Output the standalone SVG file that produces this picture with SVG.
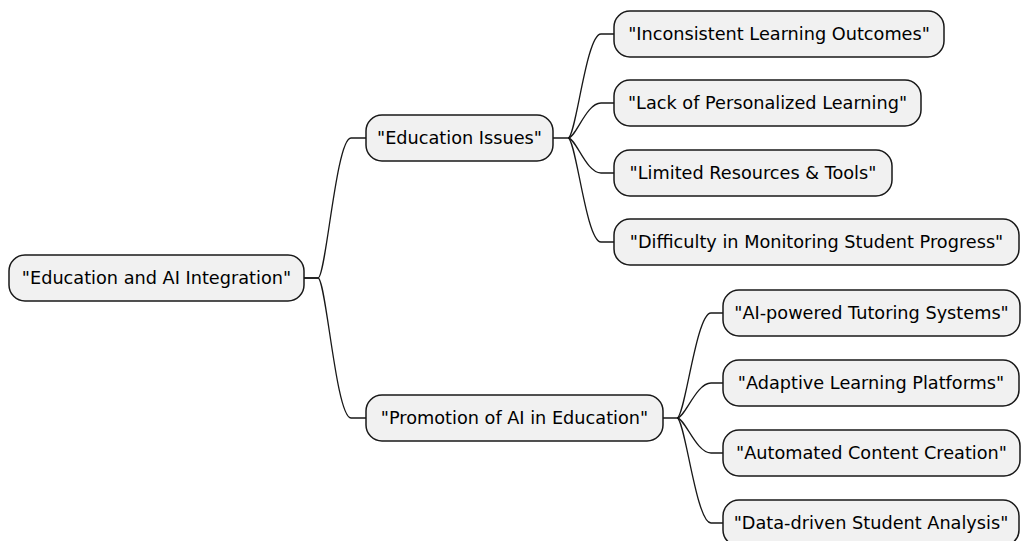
<svg xmlns="http://www.w3.org/2000/svg" width="1021" height="541" viewBox="0 0 1021 541">
<style>
.box{fill:#F1F1F1;stroke:#181818;stroke-width:1.5}
.t{font-family:"DejaVu Sans",sans-serif;font-size:17.7px;fill:#000000;text-anchor:middle}
.c{fill:none;stroke:#181818;stroke-width:1.3}
</style>
<rect width="1021" height="541" fill="#FFFFFF"/>
<g id="connectors">
<path class="c" d="M304,278 H318 C326,278 336,138 351,138 H366"/>
<path class="c" d="M304,278 H318 C326,278 336,418 351,418 H366"/>
<path class="c" d="M553,138 H568 C576,138 586,34 601,34 H614"/>
<path class="c" d="M568,138 C576,138 586,103 601,103 H614"/>
<path class="c" d="M568,138 C576,138 586,173 601,173 H614"/>
<path class="c" d="M568,138 C576,138 586,242 601,242 H614"/>
<path class="c" d="M663,418 H677 C685,418 696,313 711,313 H723"/>
<path class="c" d="M677,418 C685,418 696,383 711,383 H723"/>
<path class="c" d="M677,418 C685,418 696,453 711,453 H723"/>
<path class="c" d="M677,418 C685,418 696,523 711,523 H723"/>
</g>
<g id="root"><rect class="box" x="9" y="255" width="295" height="46" rx="16"/><text class="t" x="156.5" y="284.3">"Education and AI Integration"</text></g>
<g id="education-issues"><rect class="box" x="366" y="115" width="187" height="46" rx="16"/><text class="t" x="459.5" y="144.3">"Education Issues"</text></g>
<g id="promotion"><rect class="box" x="366" y="395" width="297" height="46" rx="16"/><text class="t" x="514.5" y="424.3">"Promotion of AI in Education"</text></g>
<g id="inconsistent"><rect class="box" x="614" y="11" width="330" height="46" rx="16"/><text class="t" x="779" y="40.3">"Inconsistent Learning Outcomes"</text></g>
<g id="lack"><rect class="box" x="614" y="80" width="307" height="46" rx="16"/><text class="t" x="767.5" y="109.3">"Lack of Personalized Learning"</text></g>
<g id="limited"><rect class="box" x="614" y="150" width="278" height="46" rx="16"/><text class="t" x="753" y="179.3">"Limited Resources &amp; Tools"</text></g>
<g id="difficulty"><rect class="box" x="614" y="219" width="405" height="46" rx="16"/><text class="t" x="816.5" y="248.3">"Difficulty in Monitoring Student Progress"</text></g>
<g id="ai-tutoring"><rect class="box" x="723" y="290" width="297" height="46" rx="16"/><text class="t" x="871.5" y="319.3">"AI-powered Tutoring Systems"</text></g>
<g id="adaptive"><rect class="box" x="723" y="360" width="296" height="46" rx="16"/><text class="t" x="871" y="389.3">"Adaptive Learning Platforms"</text></g>
<g id="automated"><rect class="box" x="723" y="430" width="297" height="46" rx="16"/><text class="t" x="871.5" y="459.3">"Automated Content Creation"</text></g>
<g id="data-driven"><rect class="box" x="723" y="500" width="296" height="46" rx="16"/><text class="t" x="871" y="529.3">"Data-driven Student Analysis"</text></g>
</svg>
